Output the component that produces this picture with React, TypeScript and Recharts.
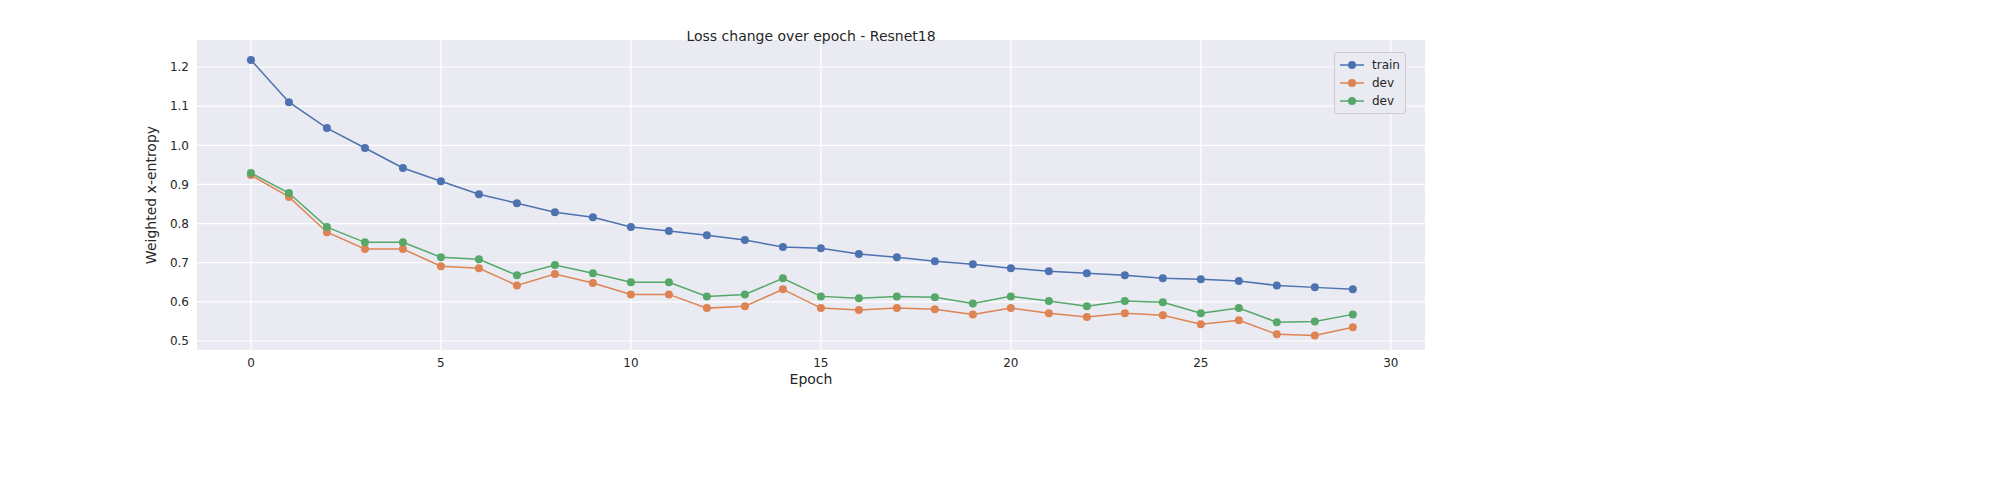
import React from "react";
import { LineChart, Line, XAxis, YAxis, CartesianGrid, Label } from "recharts";

const epochs = Array.from({ length: 30 }, (_, i) => i);
const train = [1.218,1.110,1.044,0.993,0.942,0.908,0.875,0.852,0.829,0.816,0.791,0.781,0.770,0.758,0.740,0.737,0.722,0.714,0.704,0.696,0.686,0.678,0.673,0.668,0.660,0.658,0.653,0.642,0.637,0.632];
const dev1 = [0.924,0.868,0.778,0.735,0.735,0.691,0.686,0.642,0.671,0.648,0.619,0.619,0.584,0.589,0.632,0.584,0.579,0.584,0.581,0.568,0.584,0.571,0.561,0.571,0.566,0.543,0.553,0.517,0.514,0.535];
const dev2 = [0.929,0.878,0.791,0.752,0.752,0.714,0.709,0.668,0.694,0.673,0.650,0.650,0.614,0.619,0.660,0.614,0.609,0.614,0.612,0.596,0.614,0.602,0.589,0.602,0.599,0.571,0.584,0.548,0.550,0.568];
const xTicks = [0, 5, 10, 15, 20, 25, 30];
const yTicks = [0.5, 0.6, 0.7, 0.8, 0.9, 1.0, 1.1, 1.2];
const series = [
  { key: "train", name: "train", color: "#4C72B0" },
  { key: "dev1", name: "dev", color: "#DD8452" },
  { key: "dev2", name: "dev", color: "#55A868" },
];

const data = epochs.map((e, i) => ({ epoch: e, train: train[i], dev1: dev1[i], dev2: dev2[i] }));
const font = "DejaVu Sans, sans-serif";
const tickStyle = { fontSize: 12, fill: "#262626", fontFamily: font };

export default function App() {
  return (
    <div style={{ position: "absolute", left: 0, top: 0, width: 2000, height: 500, background: "#fff", fontFamily: font }}>
      <LineChart width={2000} height={500} data={data} margin={{ top: 40, right: 575, left: 137, bottom: 120 }}>
        <CartesianGrid fill="#EAEAF2" stroke="#ffffff" strokeWidth={1.2} verticalValues={xTicks} horizontalValues={yTicks} />
        <XAxis dataKey="epoch" type="number" domain={[-1.42, 30.9]} ticks={xTicks} allowDataOverflow
          axisLine={false} tickLine={false} tick={tickStyle} height={30}>
          <Label value="Epoch" position="insideBottom" offset={-4} style={{ fontSize: 14, fill: "#262626", fontFamily: font }} />
        </XAxis>
        <YAxis type="number" domain={[0.477, 1.269]} ticks={yTicks} allowDataOverflow
          tickFormatter={(v) => v.toFixed(1)} axisLine={false} tickLine={false} tick={tickStyle} width={60}>
          <Label value="Weighted x-entropy" angle={-90} position="insideLeft" offset={14} style={{ fontSize: 14, fill: "#262626", fontFamily: font, textAnchor: "middle" }} />
        </YAxis>
        {series.map((s) => (
          <Line key={s.key} dataKey={s.key} name={s.name} stroke={s.color} strokeWidth={1.5}
            dot={{ r: 4, fill: s.color, stroke: s.color, strokeWidth: 0 }} isAnimationActive={false} />
        ))}
      </LineChart>
      <div style={{ position: "absolute", zIndex: 2, left: 0, width: 1622, top: 27, textAlign: "center", fontSize: 14, color: "#262626", lineHeight: "18px" }}>
        Loss change over epoch - Resnet18
      </div>
      <div style={{ position: "absolute", zIndex: 2, left: 1334, top: 52, width: 70, border: "1px solid #ccc", borderRadius: 3, background: "#EAEAF2", padding: "3px 0" }}>
        {series.map((s, i) => (
          <div key={i} style={{ display: "flex", alignItems: "center", height: 18, fontSize: 12, color: "#262626" }}>
            <svg width={34} height={10} style={{ marginLeft: 3 }}>
              <line x1={2} y1={5} x2={26} y2={5} stroke={s.color} strokeWidth={1.5} />
              <circle cx={14} cy={5} r={4} fill={s.color} />
            </svg>
            <span>{s.name}</span>
          </div>
        ))}
      </div>
    </div>
  );
}
